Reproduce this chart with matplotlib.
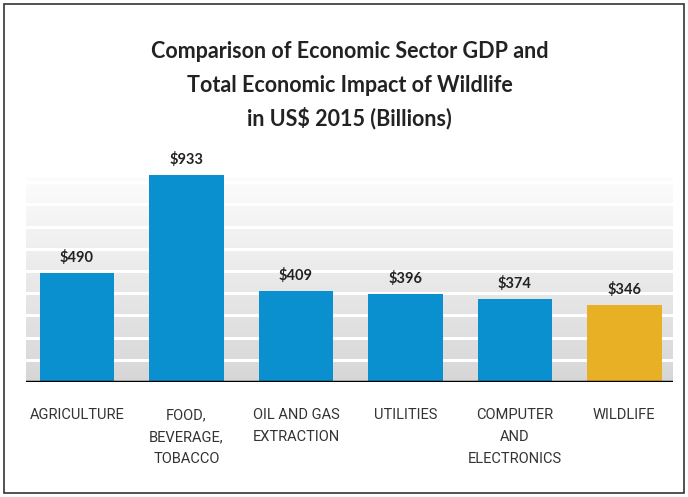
import matplotlib.pyplot as plt
import numpy as np
from matplotlib.patches import Rectangle

sectors = ["AGRICULTURE", "FOOD,\nBEVERAGE,\nTOBACCO", "OIL AND GAS\nEXTRACTION",
           "UTILITIES", "COMPUTER\nAND\nELECTRONICS", "WILDLIFE"]
gdp = [490, 933, 409, 396, 374, 346]
colors = ["#0a8fcf", "#0a8fcf", "#0a8fcf", "#0a8fcf", "#0a8fcf", "#e8b024"]
grid_vals = [100, 200, 300, 400, 500, 600, 700, 800, 900]

fig = plt.figure(figsize=(6.88, 4.97), dpi=100)
ax = fig.add_axes([26/688, 1 - 382/497, 647/688, 233/497])

x = np.arange(len(sectors))
ax.set_xlim(-0.466, 5.445)
ax.set_ylim(0, 1050)

# gray backdrop fading to white towards the top
lev = np.linspace(0.99, 0.84, 256)
grad = np.dstack([lev, lev, lev]).reshape(-1, 1, 3)
ax.imshow(grad, aspect="auto", extent=(-0.466, 5.445, 0, 920), zorder=0)
for g in grid_vals:
    ax.axhline(g, color="white", lw=2.2, zorder=1)

ax.bar(x, gdp, width=0.68, color=colors, zorder=2)
for xi, v in zip(x, gdp):
    ax.text(xi, v + 38, "$%d" % v, ha="center", va="bottom", fontsize=10.5,
            fontweight="bold", family="Lato", color="#222222", zorder=4)

ax.axhline(0, color="black", lw=2.5, zorder=3)

ax.set_xticks(x)
ax.set_xticklabels(sectors, fontsize=10.5, family="Roboto", color="#333333",
                   linespacing=1.7, va="top")
ax.tick_params(axis="x", length=0, pad=19)
ax.set_yticks([])
for s in ax.spines.values():
    s.set_visible(False)

fig.text(0.508, 1 - 52/497, "Comparison of Economic Sector GDP and", ha="center",
         va="center", fontsize=15.5, fontweight="bold", family="Lato", color="#222222")
fig.text(0.508, 1 - 85/497, "Total Economic Impact of Wildlife", ha="center",
         va="center", fontsize=15.5, fontweight="bold", family="Lato", color="#222222")
fig.text(0.508, 1 - 118/497, "in US$ 2015 (Billions)", ha="center",
         va="center", fontsize=15.5, fontweight="bold", family="Lato", color="#222222")

fig.patches.append(Rectangle((4/688, 4/497), 680/688, 489/497, transform=fig.transFigure,
                             fill=False, edgecolor="#333333", lw=1.2))

fig.savefig("out.png", dpi=100)
